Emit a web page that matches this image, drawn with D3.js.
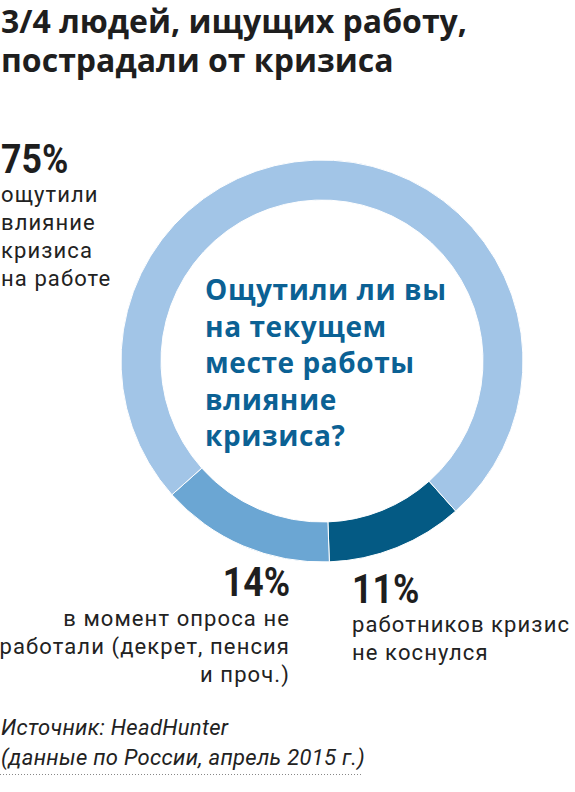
<!DOCTYPE html>
<html>
<head>
<meta charset="utf-8">
<script src="https://cdn.jsdelivr.net/npm/d3@7"></script>
<style>
  body { margin: 0; background: #fff; }
  svg { display: block; }
</style>
</head>
<body>
<div id="chart"></div>
<script>
// data
const categories = ["не коснулся", "не работали", "ощутили влияние"];
const values = [11, 14, 75];
const colors = ["#045a84", "#6ba6d3", "#a2c5e7"];

const titleLines = ["3/4 людей, ищущих работу,", "пострадали от кризиса"];
const questionLines = ["Ощутили ли вы", "на текущем", "месте работы", "влияние", "кризиса?"];
const labels = [
  { pct: "11%", lines: ["работников кризис", "не коснулся"] },
  { pct: "14%", lines: ["в момент опроса не", "работали (декрет, пенсия", "и проч.)"] },
  { pct: "75%", lines: ["ощутили", "влияние", "кризиса", "на работе"] }
];
const sourceLines = ["Источник: HeadHunter", "(данные по России, апрель 2015 г.)"];

const width = 575;
const height = 792;
const cx = 322, cy = 361;
const outerR = 201, innerR = 161;

const svg = d3.select("#chart")
  .append("svg")
  .attr("width", width)
  .attr("height", height)
  .attr("viewBox", [0, 0, width, height]);

// title
svg.append("g")
  .selectAll("text")
  .data(titleLines)
  .join("text")
    .attr("x", 1)
    .attr("y", (d, i) => 33 + i * 39)
    .attr("font-family", "'Open Sans', sans-serif")
    .attr("font-weight", 700)
    .attr("font-size", 32)
    .attr("fill", "#1e1e1e")
    .text(d => d);

// donut
const pie = d3.pie()
  .sort(null)
  .value(d => d)
  .startAngle(138.3 * Math.PI / 180)
  .endAngle(138.3 * Math.PI / 180 + 2 * Math.PI);

const arc = d3.arc()
  .innerRadius(innerR)
  .outerRadius(outerR);

svg.append("g")
  .attr("transform", `translate(${cx},${cy})`)
  .selectAll("path")
  .data(pie(values))
  .join("path")
    .attr("d", arc)
    .attr("fill", (d, i) => colors[i])
    .attr("stroke", "#fff")
    .attr("stroke-width", 1);

// question in the middle
svg.append("g")
  .selectAll("text")
  .data(questionLines)
  .join("text")
    .attr("x", 205)
    .attr("y", (d, i) => 300 + i * 36.5)
    .attr("font-family", "'Open Sans', sans-serif")
    .attr("font-weight", 700)
    .attr("font-size", 28)
    .attr("letter-spacing", 0.6)
    .attr("fill", "#0b6194")
    .text(d => d);

// big condensed percentages
const pct = (g, text, x, y, anchor) => {
  g.append("text")
    .attr("transform", `translate(${x},${y}) scale(0.87,1)`)
    .attr("text-anchor", anchor)
    .attr("font-family", "Roboto, sans-serif")
    .attr("font-weight", 700)
    .attr("font-size", 41)
    .attr("fill", "#1e1e1e")
    .text(text);
};

const lines = (g, arr, x, y0, step, anchor) => {
  g.append("g")
    .selectAll("text")
    .data(arr)
    .join("text")
      .attr("x", x)
      .attr("y", (d, i) => y0 + i * step)
      .attr("text-anchor", anchor)
      .attr("font-family", "Roboto, sans-serif")
      .attr("font-size", 22)
      .attr("letter-spacing", 1.1)
      .attr("fill", "#222")
      .text(d => d);
};

const lab = svg.append("g");
// 75%
pct(lab, labels[2].pct, 1, 173, "start");
lines(lab, labels[2].lines, 1, 202, 28, "start");
// 14%
pct(lab, labels[1].pct, 290, 596, "end");
lines(lab, labels[1].lines, 290, 626, 28, "end");
// 11%
pct(lab, labels[0].pct, 352, 603, "start");
lines(lab, labels[0].lines, 352, 632, 28, "start");

// source
svg.append("g")
  .selectAll("text")
  .data(sourceLines)
  .join("text")
    .attr("x", 1)
    .attr("y", (d, i) => 735 + i * 30)
    .attr("font-family", "Roboto, sans-serif")
    .attr("font-style", "italic")
    .attr("font-size", 22)
    .attr("letter-spacing", 0.3)
    .attr("fill", "#222")
    .text(d => d);

svg.append("line")
  .attr("x1", 0)
  .attr("x2", 362)
  .attr("y1", 774.5)
  .attr("y2", 774.5)
  .attr("stroke", "#888")
  .attr("stroke-width", 1)
  .attr("stroke-dasharray", "1,2");
</script>
</body>
</html>
